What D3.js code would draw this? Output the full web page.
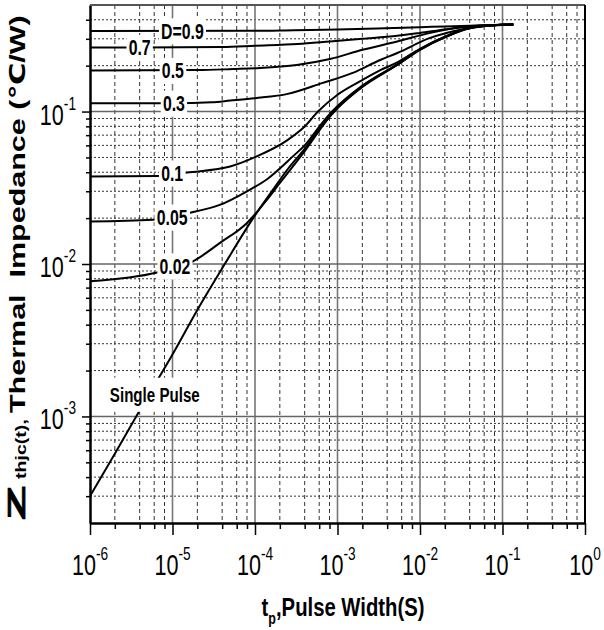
<!DOCTYPE html>
<html>
<head>
<meta charset="utf-8">
<script src="https://cdn.jsdelivr.net/npm/d3@7"></script>
<style>
  html, body { margin: 0; padding: 0; background: #fff; }
  svg { display: block; font-family: "Liberation Sans", Arial, "DejaVu Sans", sans-serif; }
</style>
</head>
<body>
<svg id="chart" width="604" height="630"></svg>
<script>
// Transient thermal impedance Zthjc (°C/W) versus pulse width tp (s), one curve per duty cycle D.
const curveD09 = [[1e-6,0.338],[1e-4,0.339],[3e-4,0.342],[1e-3,0.345],[3e-3,0.350],[1e-2,0.357],[2e-2,0.362],[4e-2,0.366],[1e-1,0.371],[1.35e-1,0.372]];
const curveD07 = [[1e-6,0.263],[4e-5,0.265],[1e-4,0.270],[3.3e-4,0.277],[8.1e-4,0.288],[2e-3,0.300],[5.3e-3,0.314],[1e-2,0.328],[2.1e-2,0.347],[4e-2,0.361],[1e-1,0.371],[1.35e-1,0.372]];
const curveD05 = [[1e-6,0.186],[2e-5,0.187],[5.4e-5,0.190],[1.15e-4,0.193],[3.2e-4,0.202],[8.1e-4,0.221],[2e-3,0.254],[5.3e-3,0.288],[1.3e-2,0.327],[3.3e-2,0.358],[1e-1,0.371],[1.35e-1,0.372]];
const curveD03 = [[1e-6,0.1135],[1e-5,0.1135],[3e-5,0.115],[5e-5,0.118],[1e-4,0.1224],[2.5e-4,0.1306],[6.5e-4,0.1536],[1.5e-3,0.1786],[3.3e-3,0.218],[5.3e-3,0.242],[1.3e-2,0.303],[3.3e-2,0.347],[1e-1,0.371],[1.35e-1,0.372]];
const curveD01 = [[1e-6,0.0375],[7e-6,0.0378],[1.5e-5,0.0398],[5e-5,0.0436],[1e-4,0.0502],[2.5e-4,0.0652],[4e-4,0.0797],[5.8e-4,0.100],[1e-3,0.129],[2e-3,0.161],[3.3e-3,0.187],[5.3e-3,0.210],[1e-2,0.258],[2.1e-2,0.313],[4e-2,0.355],[1e-1,0.371],[1.35e-1,0.372]];
const curveD005 = [[1e-6,0.0190],[5.8e-6,0.0195],[1.5e-5,0.0215],[3.8e-5,0.0245],[8e-5,0.0300],[1.4e-4,0.0360],[2.9e-4,0.0510],[4e-4,0.0600],[6.5e-4,0.0840],[8.6e-4,0.100],[2e-3,0.148],[5.3e-3,0.204],[1e-2,0.256],[2.1e-2,0.312],[4e-2,0.354],[1e-1,0.371],[1.35e-1,0.372]];
const curveD002 = [[1e-6,0.0077],[6.5e-6,0.0088],[1.77e-5,0.0104],[3.8e-5,0.0138],[8e-5,0.0186],[1.4e-4,0.0264],[2e-4,0.0340],[4e-4,0.0550],[7e-4,0.0840],[1e-3,0.106],[2e-3,0.146],[5.3e-3,0.203],[1e-2,0.255],[2.1e-2,0.311],[4e-2,0.353],[1e-1,0.371],[1.35e-1,0.372]];
const curveSingle = [[1e-6,3.0e-4],[2e-6,5.7e-4],[5e-6,1.35e-3],[1e-5,2.55e-3],[2e-5,5.0e-3],[4.3e-5,1.0e-2],[9.5e-5,2.0e-2],[1.6e-4,3.0e-2],[2.5e-4,4.2e-2],[4e-4,5.7e-2],[7e-4,8.5e-2],[1e-3,0.105],[2e-3,0.145],[5.3e-3,0.202],[1e-2,0.254],[2.1e-2,0.310],[4e-2,0.352],[1e-1,0.370],[1.35e-1,0.372]];

const curves = [curveD09, curveD07, curveD05, curveD03, curveD01, curveD005, curveD002, curveSingle];
const curveNames = ["D=0.9", "0.7", "0.5", "0.3", "0.1", "0.05", "0.02", "Single Pulse"];
// where each name sits, in (tp, Zthjc)
const nameAt = [[1.32e-5,0.338],[4.0e-6,0.263],[1.01e-5,0.186],[1.04e-5,0.1135],[9.9e-6,0.0395],[9.9e-6,0.0203],[1.07e-5,0.0097],[6.1e-6,1.39e-3]];

// axis ticks
const xDecades = [1e-6, 1e-5, 1e-4, 1e-3, 1e-2, 1e-1, 1e0];
const xExponents = ["-6", "-5", "-4", "-3", "-2", "-1", "0"];
const xMinorSteps = [2, 4, 6, 8];
const yDecades = [1e-3, 1e-2, 1e-1];
const yExponents = ["-3", "-2", "-1"];
const yMinorSteps = [2, 3, 4, 5, 6, 7, 8, 9];
const yMinorDecades = [1e-4, 1e-3, 1e-2, 1e-1];

const svg = d3.select("#chart");
const pL = 90, pR = 585, pT = 5, pB = 523;
const x = d3.scaleLog().domain([1e-6, 1]).range([pL, pR]);
const y = d3.scaleLog().domain([2e-4, 0.5]).range([pB, pT]);
const SQ = 0.72; // horizontal condensing of lettering

const xMinor = [];
xDecades.slice(0, -1).forEach(d => xMinorSteps.forEach(k => xMinor.push(d * k)));
const yMinor = [];
yMinorDecades.forEach(d => yMinorSteps.forEach(k => {
  const v = d * k;
  if (v > 2.0001e-4 && v < 0.4999) yMinor.push(v);
}));

// grid
const grid = svg.append("g");
grid.selectAll("line.vm").data(xMinor).join("line")
  .attr("x1", d => x(d)).attr("x2", d => x(d)).attr("y1", pT).attr("y2", pB)
  .attr("stroke", "#333").attr("stroke-width", 1).attr("stroke-dasharray", "4,3");
grid.selectAll("line.hm").data(yMinor).join("line")
  .attr("x1", pL).attr("x2", pR).attr("y1", d => y(d)).attr("y2", d => y(d))
  .attr("stroke", "#333").attr("stroke-width", 1).attr("stroke-dasharray", "2,2");
grid.selectAll("line.vM").data(xDecades.slice(1, -1)).join("line")
  .attr("x1", d => x(d)).attr("x2", d => x(d)).attr("y1", pT).attr("y2", pB)
  .attr("stroke", "#777").attr("stroke-width", 1.6);
grid.selectAll("line.hM").data(yDecades).join("line")
  .attr("x1", pL).attr("x2", pR).attr("y1", d => y(d)).attr("y2", d => y(d))
  .attr("stroke", "#666").attr("stroke-width", 1.6);

// curves
svg.append("clipPath").attr("id", "plotClip").append("rect")
  .attr("x", pL).attr("y", pT).attr("width", pR - pL).attr("height", pB - pT);
const line = d3.line().x(d => x(d[0])).y(d => y(d[1])).curve(d3.curveMonotoneX);
svg.append("g").attr("clip-path", "url(#plotClip)")
  .selectAll("path").data(curves).join("path")
  .attr("d", line).attr("fill", "none").attr("stroke", "#000").attr("stroke-width", 2);

// curve names on white patches
curveNames.forEach((name, i) => {
  const g = svg.append("g")
    .attr("transform", `translate(${x(nameAt[i][0])},${y(nameAt[i][1])}) scale(${SQ},1)`);
  const rect = g.append("rect").attr("fill", "#fff");
  const t = g.append("text").attr("text-anchor", "middle").attr("dy", "0.36em")
    .attr("font-size", name === "Single Pulse" ? 21 : 22).attr("font-weight", "bold")
    .attr("fill", "#000").text(name);
  const b = t.node().getBBox();
  const padX = 3, padY = name === "Single Pulse" ? 5 : 1;
  rect.attr("x", b.x - padX).attr("y", b.y - padY)
    .attr("width", b.width + 2 * padX).attr("height", b.height + 2 * padY);
});

// axes
const axisStyle = g => {
  g.select(".domain").attr("stroke", "#000").attr("stroke-width", 2);
  g.selectAll(".tick line").attr("stroke", "#000").attr("stroke-width", 1.5);
};
svg.append("g").attr("transform", `translate(0,${pB})`)
  .call(d3.axisBottom(x).tickValues(xMinor).tickSize(6).tickSizeOuter(0).tickFormat(""))
  .call(axisStyle);
svg.append("g").attr("transform", `translate(0,${pB})`)
  .call(d3.axisBottom(x).tickValues(xDecades).tickSize(12).tickSizeOuter(0).tickFormat(""))
  .call(axisStyle);
svg.append("g").attr("transform", `translate(${pL},0)`)
  .call(d3.axisLeft(y).tickValues(yMinor).tickSize(4).tickSizeOuter(0).tickFormat(""))
  .call(axisStyle);
svg.append("g").attr("transform", `translate(${pL},0)`)
  .call(d3.axisLeft(y).tickValues(yDecades).tickSize(8).tickSizeOuter(0).tickFormat(""))
  .call(axisStyle);

// frame top and right
svg.append("line").attr("x1", pL).attr("x2", pR).attr("y1", pT).attr("y2", pT)
  .attr("stroke", "#555").attr("stroke-width", 2);
svg.append("line").attr("x1", pR).attr("x2", pR).attr("y1", pT).attr("y2", pB)
  .attr("stroke", "#000").attr("stroke-width", 2);

// power-of-ten tick labels
function powerLabel(parent, px, py, exp, anchor) {
  const t = parent.append("text")
    .attr("transform", `translate(${px},${py}) scale(${SQ},1)`)
    .attr("text-anchor", anchor).attr("fill", "#000");
  t.append("tspan").attr("font-size", 30).text("10");
  t.append("tspan").attr("font-size", 19).attr("dy", -15).text(exp);
}
xDecades.forEach((d, i) => powerLabel(svg, x(d), 575, xExponents[i], "middle"));
yDecades.forEach((d, i) => powerLabel(svg, 76, y(d) + 13, yExponents[i], "end"));

// x title
const xt = svg.append("text")
  .attr("transform", `translate(343,616) scale(${SQ + 0.06},1)`)
  .attr("text-anchor", "middle").attr("font-weight", "bold").attr("fill", "#000");
xt.append("tspan").attr("font-size", 26).text("t");
xt.append("tspan").attr("font-size", 16).attr("dy", 8).text("p");
xt.append("tspan").attr("font-size", 26).attr("dy", -8).text(",Pulse Width(S)");

// y title, written upward from the bottom of the plot
const yTitle = svg.append("g").attr("transform", "translate(25,521) rotate(-90)")
  .attr("font-weight", "bold").attr("fill", "#000");
yTitle.append("text").attr("x", 1).attr("transform", "scale(1,0.44)")
  .attr("font-size", 56).attr("stroke", "#000").attr("stroke-width", 1.6).text("Z");
yTitle.append("text").attr("x", 42).attr("y", 2).attr("transform", `scale(1,${SQ})`)
  .attr("font-size", 19.6).text("thjc(t),");
yTitle.append("text").attr("x", 108).attr("transform", `scale(1,${SQ})`)
  .attr("font-size", 30.5).style("white-space", "pre")
  .text("Thermal  Impedance (\u2103/W)");
</script>
</body>
</html>
